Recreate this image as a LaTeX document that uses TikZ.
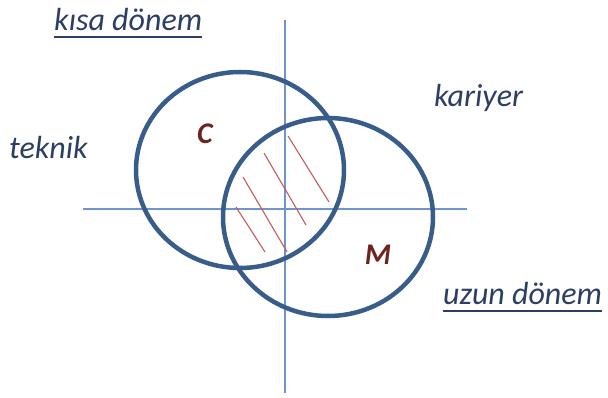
\documentclass[tikz,border=0pt]{standalone}
\usepackage{fontspec}
\setmainfont{Carlito}
\definecolor{ringcol}{RGB}{56,93,138}
\definecolor{axiscol}{RGB}{110,150,205}
\definecolor{hatchcol}{RGB}{200,90,90}
\definecolor{txtcol}{RGB}{45,62,100}
\definecolor{lettercol}{RGB}{110,35,30}
\begin{document}
\begin{tikzpicture}[x=1pt,y=-1pt,
  ring/.style={draw=ringcol,line width=4.5pt},
  axis/.style={draw=axiscol,line width=1.6pt},
  hatch/.style={draw=hatchcol,line width=1.1pt},
  lbl/.style={text=txtcol,font=\fontsize{32}{34}\selectfont\itshape,inner sep=0pt},
  letter/.style={text=lettercol,font=\fontsize{30}{32}\selectfont\bfseries\itshape,inner sep=0pt},
  uline/.style={draw=txtcol,line width=1.4pt}]
\useasboundingbox (0,0) rectangle (608,398);
% axes
\coordinate (hl) at (83,209);
\coordinate (hr) at (467,209);
\coordinate (vt) at (285,20);
\coordinate (vb) at (285,393);
\draw[axis] (hl) -- (hr);
\draw[axis] (vt) -- (vb);
% hatching
\draw[hatch] (236,207) -- (265,252);
\draw[hatch] (243,177) -- (287,252);
\draw[hatch] (264,153) -- (306,225);
\draw[hatch] (288,136) -- (329,202);
% circles
\draw[ring] (240,170) ellipse [x radius=104, y radius=98];
\draw[ring] (328,217) ellipse [x radius=105, y radius=99];
% letters
\node[letter] (c) at (205,134) {C};
\node[letter] (m) at (378,255) {M};
% labels
\node[lbl,anchor=base west] (kisa) at (54,31) {kısa dönem};
\draw[uline] (kisa.base west) ++(0,6) coordinate (k1) -- (kisa.base east |- k1);
\node[lbl,anchor=west] (teknik) at (9,148) {teknik};
\node[lbl,anchor=west] (kariyer) at (434,98) {kariyer};
\node[lbl,anchor=base west] (uzun) at (443,305) {uzun dönem};
\draw[uline] (uzun.base west) ++(0,6) coordinate (u1) -- (uzun.base east |- u1);
\end{tikzpicture}
\end{document}
